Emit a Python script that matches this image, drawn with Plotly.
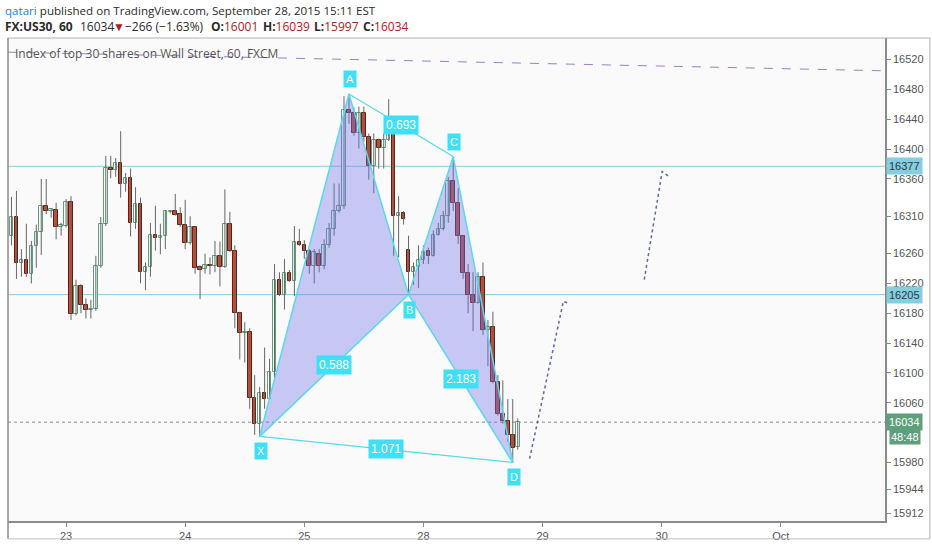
import plotly.graph_objects as go

# ---------------- data ----------------
hours = list(range(-12, 92))  # hourly bars, hour 0 = Sep 23 00:00 (weekend removed)
open_ = [16343,16283,16309,16247,16252,16233,16270,16289,16324,16317,
         16319,16295,16297,16329,16179,16217,16191,16184,16186,16243,
         16299,16375,16372,16382,16353,16361,16301,16327,16235,16242,
         16285,16281,16283,16316,16317,16313,16298,16274,16295,16242,
         16239,16245,16243,16257,16242,16299,16263,16181,16153,16155,
         16067,16031,16073,16065,16101,16224,16204,16234,16223,16276,
         16272,16264,16244,16260,16243,16271,16293,16317,16324,16452,
         16448,16421,16449,16416,16377,16412,16401,16412,16423,16311,
         16315,16265,16235,16242,16251,16263,16257,16285,16293,16310,
         16357,16328,16284,16234,16205,16194,16229,16157,16161,16088,
         16045,16035,16017,16001]
high = [16348,16336,16344,16266,16300,16277,16299,16360,16360,16321,
        16328,16301,16333,16337,16225,16219,16200,16198,16257,16309,
        16391,16391,16388,16424,16368,16374,16349,16335,16248,16301,
        16324,16300,16318,16318,16340,16322,16332,16310,16297,16244,
        16260,16255,16277,16276,16346,16316,16271,16182,16168,16160,
        16097,16081,16134,16119,16246,16235,16253,16238,16297,16293,
        16278,16266,16266,16266,16279,16301,16354,16354,16471,16474,
        16456,16457,16457,16421,16421,16414,16421,16467,16443,16337,
        16317,16284,16248,16271,16271,16268,16291,16301,16317,16363,
        16390,16348,16285,16246,16235,16235,16248,16171,16182,16097,
        16090,16065,16065,16039]
low = [16262,16271,16226,16229,16229,16220,16241,16258,16313,16308,
       16279,16284,16295,16171,16177,16180,16173,16173,16183,16241,
       16297,16361,16363,16335,16343,16283,16293,16220,16211,16229,
       16264,16259,16266,16314,16311,16296,16266,16272,16233,16199,
       16233,16232,16235,16216,16241,16262,16160,16118,16114,16052,
       16017,16015,16052,16064,16090,16203,16185,16222,16203,16270,
       16253,16233,16220,16235,16239,16268,16284,16315,16320,16434,
       16418,16401,16410,16359,16341,16374,16374,16411,16257,16255,
       16299,16205,16218,16214,16246,16246,16256,16284,16291,16301,
       16317,16273,16226,16180,16156,16193,16151,16109,16086,16043,
       16032,16008,15980,15997]
close = [16283,16309,16247,16252,16233,16270,16289,16324,16317,16320,
         16295,16298,16329,16179,16217,16191,16184,16186,16243,16299,
         16375,16372,16382,16353,16361,16301,16327,16235,16242,16285,
         16281,16284,16317,16317,16312,16298,16274,16295,16241,16238,
         16245,16243,16257,16242,16299,16263,16181,16154,16155,16067,
         16031,16073,16065,16101,16224,16204,16234,16223,16275,16272,
         16264,16244,16262,16243,16271,16293,16317,16324,16452,16448,
         16421,16449,16416,16377,16412,16401,16412,16423,16311,16315,
         16306,16235,16242,16251,16262,16257,16285,16293,16310,16357,
         16328,16284,16234,16205,16194,16229,16157,16161,16088,16045,
         16035,16017,16000,16034]

day_ticks = [0, 24, 48, 72, 96, 120, 144]
day_labels = ["23", "24", "25", "28", "29", "30", "Oct"]
price_ticks = [16520, 16480, 16440, 16400, 16360, 16310, 16260, 16220,
               16180, 16140, 16100, 16060, 15980, 15944, 15912]

# XABCD harmonic pattern points (hour, price)
pat_names = ["X", "A", "B", "C", "D"]
pat_x = [39, 57, 69, 78, 90]
pat_y = [16015, 16474, 16205, 16390, 15980]
ratio_labels = ["0.588", "0.693", "2.183", "1.071"]

hlines = [16377, 16205]
last_price = 16034
countdown = "48:48"

trend_x = [-11.7, 165]
trend_y = [16530, 16505]
proj1_x = [93.4, 100.2, 101.4]
proj1_y = [15985, 16196, 16193]
proj2_x = [116.5, 120.1, 121.3]
proj2_y = [16225, 16370, 16364]

# ---------------- figure ----------------
UP_LINE = "#5f9e7c"
UP_FILL = "#fbfbfb"
DN_LINE = "#5e2015"
DN_FILL = "#d4472c"
WICK = "#666666"
CYAN = "#3fe0f5"
CYAN_LINE = "#5ad8ee"
RED_TXT = "#b0201a"

fig = go.Figure()

# horizontal levels
for lv in hlines:
    fig.add_shape(type="line", xref="paper", x0=0, x1=1, yref="y", y0=lv, y1=lv,
                  line=dict(color="#8ccbe0", width=1), layer="below")
fig.add_shape(type="line", xref="paper", x0=0, x1=1, yref="y", y0=last_price, y1=last_price,
              line=dict(color="#8a8a8a", width=1, dash="dot"), layer="below")

# wicks
wx, wy = [], []
for h, lo, hi in zip(hours, low, high):
    wx += [h, h, None]
    wy += [lo, hi, None]
fig.add_trace(go.Scatter(x=wx, y=wy, mode="lines", line=dict(color=WICK, width=1),
                         hoverinfo="skip", showlegend=False))

# bodies
base = [min(o, c) for o, c in zip(open_, close)]
height = [max(abs(c - o), 1.2) for o, c in zip(open_, close)]
fills = [UP_FILL if c >= o else DN_FILL for o, c in zip(open_, close)]
edges = [UP_LINE if c >= o else DN_LINE for o, c in zip(open_, close)]
fig.add_trace(go.Bar(x=hours, y=height, base=base, width=0.72,
                     marker=dict(color=fills, line=dict(color=edges, width=1)),
                     showlegend=False, hoverinfo="skip"))

# pattern fills
X, A, B, C, D = list(zip(pat_x, pat_y))
for tri in [(X, A, B), (B, C, D)]:
    fig.add_trace(go.Scatter(x=[p[0] for p in tri] + [tri[0][0]],
                             y=[p[1] for p in tri] + [tri[0][1]],
                             mode="lines", fill="toself",
                             fillcolor="rgba(115,115,235,0.38)",
                             line=dict(color=CYAN_LINE, width=1.5),
                             hoverinfo="skip", showlegend=False))
for p, q in [(A, C), (X, D)]:
    fig.add_trace(go.Scatter(x=[p[0], q[0]], y=[p[1], q[1]], mode="lines",
                             line=dict(color=CYAN_LINE, width=1.2),
                             hoverinfo="skip", showlegend=False))

# trend line and projections
fig.add_trace(go.Scatter(x=trend_x, y=trend_y, mode="lines",
                         line=dict(color="#9b7fc9", width=1, dash="dash"),
                         hoverinfo="skip", showlegend=False))
for px_, py_ in [(proj1_x, proj1_y), (proj2_x, proj2_y)]:
    fig.add_trace(go.Scatter(x=px_, y=py_, mode="lines",
                             line=dict(color="#5b6aa8", width=1.5, dash="dot"),
                             hoverinfo="skip", showlegend=False))

ann = []
# point labels
for name, x, y in zip(pat_names, pat_x, pat_y):
    up = name in ("A", "C")
    ann.append(dict(x=x, y=y, xref="x", yref="y", text=name, showarrow=False,
                    xshift=1, yshift=15 if up else -15, bgcolor=CYAN, borderpad=2,
                    font=dict(color="white", size=11, family="Liberation Sans")))
# ratio labels at segment midpoints
for lbl, (p, q) in zip(ratio_labels, [(X, B), (A, C), (B, D), (X, D)]):
    ann.append(dict(x=(p[0] + q[0]) / 2, y=(p[1] + q[1]) / 2, xref="x", yref="y",
                    text=lbl, showarrow=False, bgcolor=CYAN, borderpad=2,
                    font=dict(color="white", size=12, family="Liberation Sans")))
# price axis boxes
for lv in hlines:
    ann.append(dict(x=1, y=lv, xref="paper", yref="y", xanchor="left", text=str(lv),
                    showarrow=False, bgcolor="#86cde0", xshift=1, borderpad=2,
                    font=dict(color="#2a3a40", size=11, family="Liberation Sans")))
ann.append(dict(x=1, y=last_price, xref="paper", yref="y", xanchor="left",
                text=str(last_price), showarrow=False, bgcolor="#5e9f7d", xshift=1, borderpad=2,
                font=dict(color="white", size=11, family="Liberation Sans")))
ann.append(dict(x=1, y=last_price, xref="paper", yref="y", xanchor="left",
                text=countdown, showarrow=False, bgcolor="#5e9f7d", xshift=4, yshift=-15,
                borderpad=1, font=dict(color="white", size=11, family="Liberation Sans")))
# chart title inside the pane
ann.append(dict(x=0, y=1, xref="paper", yref="paper", xanchor="left", yanchor="middle",
                xshift=5, yshift=-15, showarrow=False,
                text="Index of top 30 shares on Wall Street, 60, FXCM",
                font=dict(color="#555555", size=12, family="Open Sans")))

# header pieces: (pixel x of left edge, pixel y of centre, html text, size)
header = [
    (3, 10, "<span style='color:#2a7fd4'>qatari</span> published on TradingView.com, September 28, 2015 15:11 EST", 11.6),
    (3, 26, "<b>FX:US30, 60</b>", 12),
    (78, 26, "16034", 12),
    (111, 26, f"<span style='color:{RED_TXT}'>▼</span>", 12),
    (123, 26, "−266 (−1.63%)", 12),
    (209, 26, f"<b>O:</b><span style='color:{RED_TXT}'>16001</span>", 12),
    (261, 26, f"<b>H:</b><span style='color:{RED_TXT}'>16039</span>", 12),
    (312, 26, f"<b>L:</b><span style='color:{RED_TXT}'>15997</span>", 12),
    (361, 26, f"<b>C:</b><span style='color:{RED_TXT}'>16034</span>", 12),
]
for hx, hy, txt, sz in header:
    ann.append(dict(x=0, y=1, xref="paper", yref="paper", xanchor="left", yanchor="middle",
                    xshift=hx - 8, yshift=38 - hy, showarrow=False, text=txt,
                    font=dict(color="#2a2a2a", size=sz, family="Open Sans")))

fig.update_layout(
    width=932, height=550,
    margin=dict(l=8, r=46, t=38, b=23),
    paper_bgcolor="white", plot_bgcolor="#fafafa",
    bargap=0, barmode="overlay",
    annotations=ann,
    xaxis=dict(range=[-11.7, 165], tickvals=day_ticks, ticktext=day_labels,
               showgrid=False, zeroline=False, showline=True, linecolor="#8a8a8a", linewidth=1.5,
               ticks="outside", ticklen=4, tickcolor="#8a8a8a",
               tickfont=dict(color="#555555", size=11, family="Liberation Sans"),
               fixedrange=True),
    yaxis=dict(range=[15901.5, 16549], side="right", tickvals=price_ticks,
               ticktext=[str(v) for v in price_ticks],
               showgrid=False, zeroline=False, showline=True, linecolor="#8a8a8a", linewidth=1.5,
               ticks="outside", ticklen=4, tickcolor="#8a8a8a",
               tickfont=dict(color="#555555", size=11, family="Liberation Sans"),
               fixedrange=True),
)
# chart frame
fig.add_shape(type="line", xref="paper", yref="paper", x0=0, x1=0, y0=-0.037, y1=1,
              line=dict(color="#8a8a8a", width=1.5))
fig.add_shape(type="line", xref="paper", yref="paper", x0=0, x1=1.0512, y0=1, y1=1,
              line=dict(color="#b0b0b0", width=1))
fig.add_shape(type="line", xref="paper", yref="paper", x0=0, x1=1.0512, y0=-0.037, y1=-0.037,
              line=dict(color="#c0c0c0", width=1))
fig.add_shape(type="line", xref="paper", yref="paper", x0=1.0512, x1=1.0512, y0=-0.037, y1=1,
              line=dict(color="#b0b0b0", width=1))

fig.write_html("out.html", config={"displayModeBar": False},
               post_script="document.body.style.margin='0px';")
